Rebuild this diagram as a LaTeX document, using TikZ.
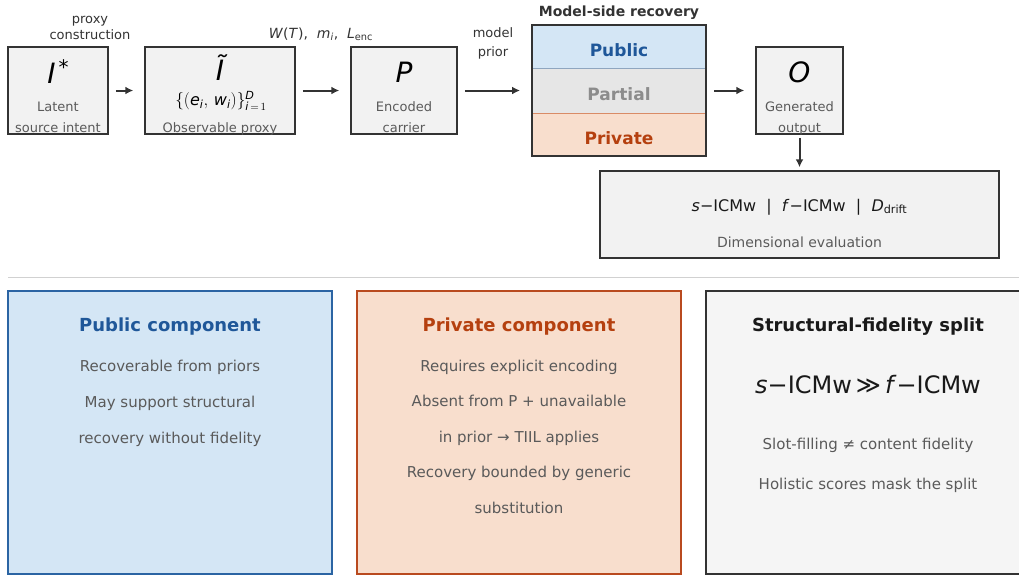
\documentclass[tikz,border=0pt]{standalone}
\usepackage{amsmath}
\usepackage{fontspec}
\setmainfont{DejaVu Sans}
\usetikzlibrary{arrows.meta,positioning}
\definecolor{boxfill}{HTML}{F2F2F2}
\definecolor{boxline}{HTML}{333333}
\definecolor{pubfill}{HTML}{D4E6F5}
\definecolor{publine}{HTML}{2B64A3}
\definecolor{pubtext}{HTML}{1F5799}
\definecolor{privfill}{HTML}{F8DECD}
\definecolor{privline}{HTML}{B94A1F}
\definecolor{privtext}{HTML}{B5400F}
\definecolor{partfill}{HTML}{E6E6E6}
\definecolor{parttext}{HTML}{8C8C8C}
\definecolor{captext}{HTML}{5A5A5A}
\newcommand{\vi}[1]{\text{\itshape #1}}
\newcommand{\fs}[1]{\fontsize{#1}{#1}\selectfont}
\begin{document}
\begin{tikzpicture}[x=1pt,y=-1pt,inner sep=0pt,
  stage/.style={draw=boxline,fill=boxfill,line width=1.5pt,minimum height=87pt},
  subcap/.style={text=captext,font=\fs{13},text height=10pt,text depth=3pt},
  note/.style={text=boxline,font=\fs{13},text height=10pt,text depth=3pt},
  sym/.style={font=\fs{28}\itshape},
  band/.style={minimum width=174pt,minimum height=43.67pt,font=\fs{17}\bfseries,text height=19pt,text depth=0pt},
  panel/.style={line width=1.5pt,minimum height=283pt},
  head/.style={font=\fs{18}\bfseries,text height=13pt,text depth=4pt},
  body/.style={text=captext,font=\fs{15},text height=11pt,text depth=3pt},
  flow/.style={draw=boxline,line width=2pt,-{Latex[length=8pt,width=8pt]},shorten <=7pt,shorten >=11pt}]
\useasboundingbox (0,0) rectangle (1019,576);
\node[stage,minimum width=100pt] (latent) at (58,90.5) {};
\node[stage,minimum width=150pt] (proxy) at (220,90.5) {};
\node[stage,minimum width=106pt] (carrier) at (404,90.5) {};
\node[stage,minimum width=87pt] (output) at (799.5,90.5) {};
\node[stage,minimum width=399pt] (eval) at (799.5,214.5) {};
\node[band,fill=pubfill,text=pubtext] (pub) at (619,46.8) {Public};
\node[band,fill=partfill,text=parttext,below=0pt of pub] (part) {Partial};
\node[band,fill=privfill,text=privtext,below=0pt of part] (priv) {Private};
\draw[color={rgb,255:red,143;green,166;blue,191},line width=0.8pt] (pub.south west) -- (pub.south east);
\draw[color={rgb,255:red,217;green,139;blue,102},line width=0.8pt] (part.south west) -- (part.south east);
\node[draw=boxline,line width=2pt,minimum width=174pt,minimum height=131pt] (recovery) at (619,90.5) {};
\node[above=4pt of recovery,font=\fs{14}\bfseries,text=boxline] (rectitle) {Model-side recovery};
\node[sym] (istar) at (58,72) {I\kern3pt\raisebox{9pt}{\fs{20}\upshape*}};
\node[subcap] at (58,108) {Latent};
\node[subcap] at (58,129) {source intent};
\node[sym] (itilde) at (220,68) {Ĩ};
\node[font=\fs{16}] (pairs) at (221,101) {$\{(\vi{e}_{\vi{i}},\,\vi{w}_{\vi{i}})\}^{\vi{D}}_{\vi{i}\,=\,1}$};
\node[subcap] at (220,129) {Observable proxy};
\node[sym] (pvar) at (404,72) {P};
\node[subcap] at (404,108) {Encoded};
\node[subcap] at (404,129) {carrier};
\node[sym] (ovar) at (799.5,72) {O};
\node[subcap] at (799.5,108) {Generated};
\node[subcap] at (799.5,129) {output};
\node[note] at (90,20) {proxy};
\node[note] at (90,36) {construction};
\node[note,font=\fs{14}] at (321,35) {\textit{W}(\textit{T}),\ \ $\vi{m}_{\vi{i}}$,\ \ $\vi{L}_{\text{enc}}$};
\node[note] at (493,34) {model};
\node[note] at (493,53) {prior};
\node[font=\fs{16},text=black!90] (metrics) at (799.5,207) {\textit{s}−ICMw\ \ |\ \ \textit{f}−ICMw\ \ |\ \ $\vi{D}_{\text{drift}}$};
\node[subcap,font=\fs{14}] at (799.5,244) {Dimensional evaluation};
\draw[flow] (latent) -- (proxy);
\draw[flow] (proxy) -- (carrier);
\draw[flow] (carrier) -- (recovery);
\draw[flow] (recovery) -- (output);
\draw[flow,shorten <=3pt,shorten >=3pt] (output) -- (eval);
\draw[black!18,line width=1pt] (8,277) -- (1019,277);
\node[panel,draw=publine,fill=pubfill,minimum width=324pt] (pubpanel) at (170,432.5) {};
\node[panel,draw=privline,fill=privfill,minimum width=324pt] (privpanel) at (519,432.5) {};
\node[panel,draw=boxline,fill=black!4,minimum width=318pt] (splitpanel) at (865,432.5) {};
\node[head,text=pubtext] at (170,327) {Public component};
\node[head,text=privtext] at (519,327) {Private component};
\node[head,text=black!90] at (868,327) {Structural-fidelity split};
\foreach \t [count=\k from 0] in {Recoverable from priors,May support structural,recovery without fidelity}
  \node[body] at (170,367+36*\k) {\t};
\foreach \t [count=\k from 0] in {Requires explicit encoding,Absent from P + unavailable,in prior → TIIL applies,Recovery bounded by generic,substitution}
  \node[body] at (519,367+35.5*\k) {\t};
\node[font=\fs{24},text=black!90] (split) at (868,385) {\textit{s}−ICMw\,≫\,\textit{f}−ICMw};
\node[body] at (868,445) {Slot-filling ≠ content fidelity};
\node[body] at (868,485) {Holistic scores mask the split};
\end{tikzpicture}
\end{document}
